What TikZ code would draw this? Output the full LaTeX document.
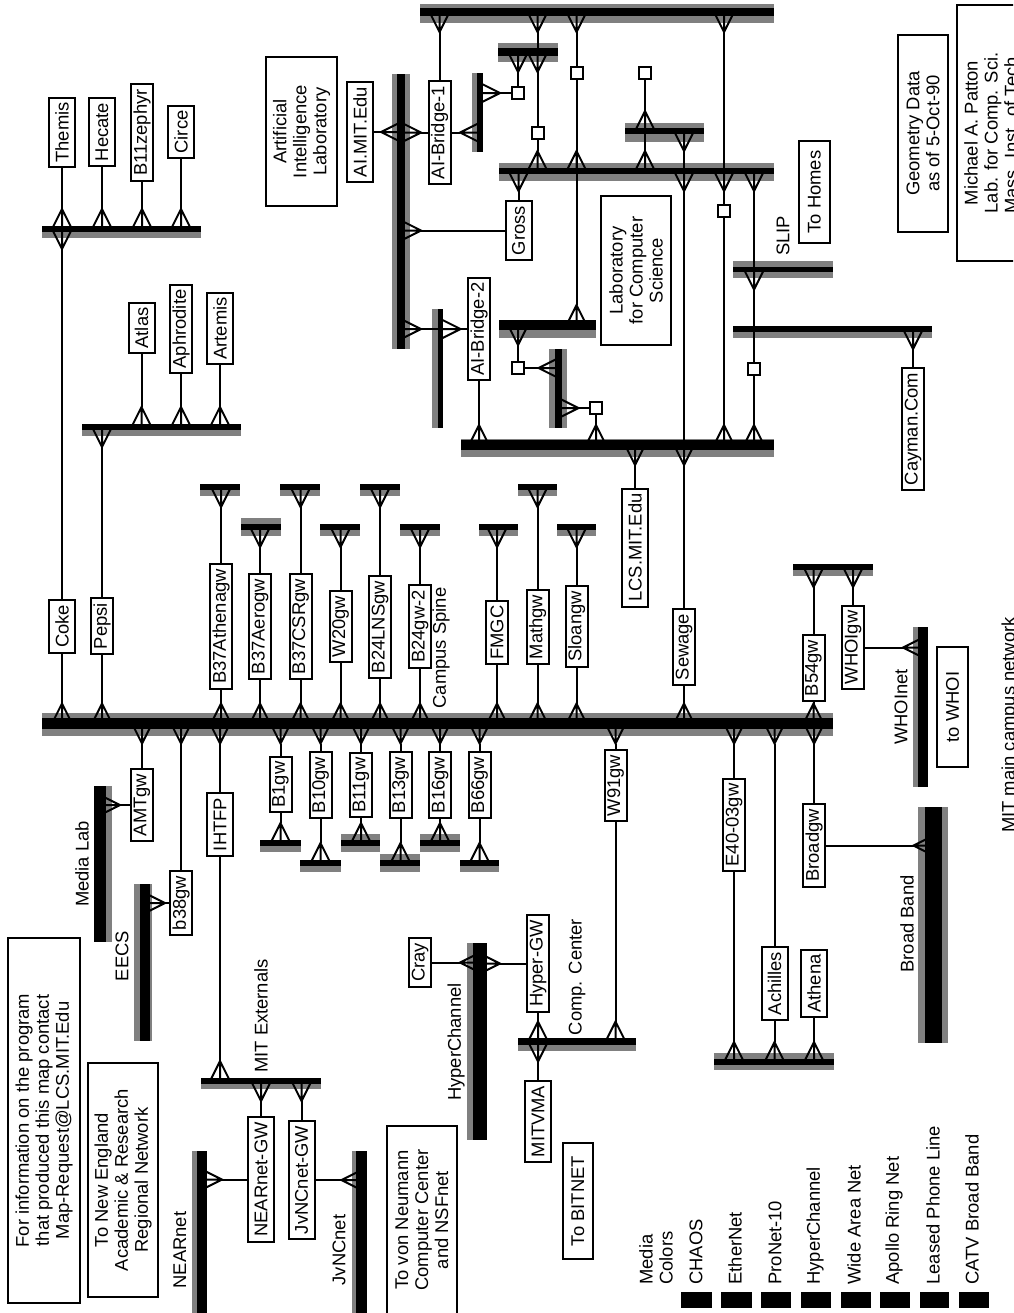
\documentclass[tikz,border=0pt]{standalone}
\usepackage{xcolor}
\usepackage{fontspec}
\setmainfont{Liberation Sans}
\usetikzlibrary{arrows.meta, calc, fit}

\pgfdeclarearrow{
  name=Crow,
  setup code={\pgfarrowssettipend{0pt}\pgfarrowssetlineend{-10pt}\pgfarrowssetvisualbackend{-10pt}\pgfarrowssetbackend{-10pt}},
  drawing code={
    \pgfpathmoveto{\pgfqpoint{0pt}{5pt}}\pgfpathlineto{\pgfqpoint{-10pt}{0pt}}\pgfpathlineto{\pgfqpoint{0pt}{-5pt}}
    \pgfpathmoveto{\pgfqpoint{-10pt}{0pt}}\pgfpathlineto{\pgfqpoint{0pt}{0pt}}
    \pgfusepathqstroke
  }
}
\colorlet{busgray}{black!50}
% name, grey band corners, black core corners
\newcommand{\busbar}[9]{
  \fill[busgray] (#2,#3) rectangle (#4,#5);
  \node[fit={(#6,#7)(#8,#9)}, inner sep=0pt, fill=black] (#1) {};
}

\begin{document}
\begin{tikzpicture}[x=0.5pt, y=-0.5pt, every node/.style={font=\fontsize{9.2pt}{10pt}\selectfont},
    gw/.style={draw, rotate=90, fill=white, line width=1pt, inner xsep=2.4pt, inner ysep=0pt, minimum height=11pt},
    gww/.style={gw, minimum height=13pt},
    infobox/.style={draw, rotate=90, line width=1pt, align=center},
    sq/.style={draw, fill=white, line width=1pt, minimum size=6pt, inner sep=0pt},
    lab/.style={rotate=90, inner sep=0pt},
    link/.style={-Crow, line width=1pt}]
  \useasboundingbox (0,0) rectangle (1013,1313);
  \clip (0,0) rectangle (1013,1313);

  % buses, top half
  \busbar{themisbus}{42}{226}{201}{238}{42}{226}{201}{232}
  \busbar{atlasbus}{82}{424}{241}{436}{82}{424}{241}{430}
  \busbar{athenabus}{200}{484}{240}{496}{200}{484}{240}{490}
  \busbar{aerobus}{241}{518}{281}{536}{241}{524}{281}{530}
  \busbar{csrbus}{280}{484}{320}{496}{280}{484}{320}{490}
  \busbar{wtwentybus}{320}{524}{360}{536}{320}{524}{360}{530}
  \busbar{lnsbus}{360}{484}{400}{496}{360}{484}{400}{490}
  \busbar{bfourbus}{400}{524}{440}{536}{400}{524}{440}{530}
  \busbar{fmgcbus}{479}{524}{518}{536}{479}{524}{518}{530}
  \busbar{mathbus}{518}{484}{557}{496}{518}{484}{557}{490}
  \busbar{sloanbus}{557}{524}{596}{536}{557}{524}{596}{530}
  \busbar{aitop}{420}{4}{774}{23}{420}{8}{774}{16}
  \busbar{upperbus}{499}{163}{774}{181}{499}{168}{774}{174}
  \busbar{smallbus}{498}{43}{558}{62}{498}{48}{558}{56}
  \busbar{midbus}{625}{123}{704}{142}{625}{128}{704}{134}
  \busbar{lowerbus}{499}{320}{596}{338}{499}{320}{596}{330}
  \busbar{lanebus}{461}{439}{774}{457}{461}{440}{774}{450}
  \busbar{slipbus}{733}{261}{833}{278}{733}{267}{833}{272}
  \busbar{caybus}{733}{326}{932}{338}{733}{326}{932}{332}
  \busbar{aibus}{392}{74}{410}{349}{397}{74}{405}{349}
  \busbar{bridgeAbus}{472}{73}{483}{152}{477}{73}{483}{152}
  \busbar{bridgeBbus}{432}{309}{443}{428}{438}{309}{443}{428}
  \busbar{vertbus}{549}{349}{567}{428}{555}{349}{562}{428}

  % buses, spine and below
  \busbar{spine}{42}{713}{833}{736}{42}{718}{833}{729}
  \busbar{medialab}{94}{786}{112}{942}{94}{786}{106}{942}
  \busbar{eecs}{134}{884}{152}{1041}{140}{884}{150}{1041}
  \busbar{bonebus}{260}{840}{301}{852}{260}{840}{301}{846}
  \busbar{btenbus}{300}{860}{341}{872}{300}{860}{341}{866}
  \busbar{belevenbus}{341}{834}{380}{852}{341}{840}{380}{846}
  \busbar{bthirteenbus}{380}{854}{420}{872}{380}{860}{420}{866}
  \busbar{bsixteenbus}{420}{834}{460}{852}{420}{840}{460}{846}
  \busbar{bsixtybus}{460}{860}{499}{872}{460}{860}{499}{866}
  \busbar{extbus}{201}{1078}{321}{1089}{201}{1078}{321}{1084}
  \busbar{nearbus}{192}{1151}{207}{1313}{197}{1151}{207}{1313}
  \busbar{jvncbus}{352}{1151}{367}{1313}{356}{1151}{367}{1313}
  \busbar{hyperbus}{467}{943}{487}{1140}{473}{943}{487}{1140}
  \busbar{compbus}{518}{1038}{636}{1051}{518}{1038}{636}{1045}
  \busbar{athbus}{714}{1053}{834}{1070}{714}{1059}{834}{1065}
  \busbar{broadbus}{918}{807}{948}{1043}{925}{807}{942}{1043}
  \busbar{whoibus}{793}{564}{873}{576}{793}{564}{873}{570}
  \busbar{whoinet}{913}{627}{928}{787}{918}{627}{928}{787}

  % hosts and gateways
  \node[gww] (themis) at (62,132.5) {Themis};
  \node[gww] (hecate) at (102,132) {Hecate};
  \node[gw] (zephyr) at (142,132.5) {B11zephyr};
  \node[gww] (circe) at (181,132) {Circe};
  \node[gww] (atlas) at (141.5,328) {Atlas};
  \node[gw] (aphrodite) at (181,329) {Aphrodite};
  \node[gww] (artemis) at (220,328.5) {Artemis};
  \node[gww] (aimit) at (360,132) {AI.MIT.Edu};
  \node[gw] (bridgeone) at (439.5,132.5) {AI-Bridge-1};
  \node[gw] (bridgetwo) at (479,329) {AI-Bridge-2};
  \node[gww] (gross) at (518.5,230.5) {Gross};
  \node[gw] (cayman) at (913,429) {Cayman.Com};
  \node[gww] (coke) at (62,626.5) {Coke};
  \node[gw] (pepsi) at (102,626) {Pepsi};
  \node[gw] (athenagw) at (221,626.5) {B37Athenagw};
  \node[gw] (aerogw) at (260,626.5) {B37Aerogw};
  \node[gw] (csrgw) at (300.5,626.5) {B37CSRgw};
  \node[gw] (wtwentygw) at (340.5,626.5) {W20gw};
  \node[gw] (lnsgw) at (380,627) {B24LNSgw};
  \node[gw] (bfourgw) at (420,626.5) {B24gw-2};
  \node[gw] (fmgc) at (497,632.5) {FMGC};
  \node[gw] (mathgw) at (537.5,627) {Mathgw};
  \node[gw] (sloangw) at (576.5,626.5) {Sloangw};
  \node[gww] (lcsmit) at (635,547.5) {LCS.MIT.Edu};
  \node[gw] (sewage) at (684,647) {Sewage};
  \node[gw] (bfiftygw) at (813.5,668) {B54gw};
  \node[gw] (whoigw) at (853,647.5) {WHOIgw};
  \node[gw] (amtgw) at (142,805) {AMTgw};
  \node[gw] (bthirtygw) at (181,903) {b38gw};
  \node[gww] (ihtfp) at (220,824.5) {IHTFP};
  \node[gw] (bonegw) at (280.5,784.5) {B1gw};
  \node[gw] (btengw) at (320.5,785) {B10gw};
  \node[gw] (belevengw) at (361,785) {B11gw};
  \node[gw] (bthirteengw) at (400.5,785) {B13gw};
  \node[gw] (bsixteengw) at (440,785) {B16gw};
  \node[gw] (bsixtygw) at (479.5,785) {B66gw};
  \node[gw] (wninetygw) at (615.5,785.5) {W91gw};
  \node[gw] (eforty) at (734,825) {E40-03gw};
  \node[gw] (broadgw) at (814,845.5) {Broadgw};
  \node[gww] (neargw) at (261,1179.5) {NEARnet-GW};
  \node[gww] (jvncgw) at (301.5,1180) {JvNCnet-GW};
  \node[gw] (cray) at (420,962.5) {Cray};
  \node[gw] (hypergw) at (538,963.5) {Hyper-GW};
  \node[gww] (mitvma) at (538,1121.5) {MITVMA};
  \node[gww] (achilles) at (774.5,983.5) {Achilles};
  \node[gww] (athena) at (814,983.5) {Athena};
  \node[sq] (sqa) at (518,93) {};
  \node[sq] (sqb) at (537.5,133) {};
  \node[sq] (sqc) at (576.5,73) {};
  \node[sq] (sqd) at (645,73) {};
  \node[sq] (sqe) at (724,211) {};
  \node[sq] (sqf) at (518,368) {};
  \node[sq] (sqg) at (596,408) {};
  \node[sq] (sqh) at (754,369) {};

  % text boxes
  \node[infobox, minimum width=74.5pt, minimum height=35.5pt] (ailab) at (301.5,131.5) {Artificial\\Intelligence\\Laboratory};
  \node[infobox, minimum width=74.5pt, minimum height=35pt] (lcslab) at (636,270.5) {Laboratory\\for Computer\\Science};
  \node[infobox, minimum width=51pt, minimum height=15.5pt] (homes) at (814.5,192) {To Homes};
  \node[infobox, minimum width=98.5pt, minimum height=25pt] (geometry) at (923,133.5) {Geometry Data\\as of 5-Oct-90};
  \node[infobox, minimum width=128pt, minimum height=34pt] (patton) at (991,133) {Michael A. Patton\\Lab. for Comp. Sci.\\Mass. Inst. of Tech.};
  \node[infobox, minimum width=182.5pt, minimum height=36pt] (mapinfo) at (44,1120.5) {For information on the program\\that produced this map contact\\Map-Request@LCS.MIT.Edu};
  \node[infobox, minimum width=117pt, minimum height=35pt] (nearinfo) at (123,1180) {To New England\\Academic \& Research\\Regional Network};
  \node[infobox, minimum width=94pt, minimum height=35pt] (vninfo) at (422,1220) {To von Neumann\\Computer Center\\and NSFnet};
  \node[infobox, minimum width=58pt, minimum height=15pt] (bitnet) at (578,1201) {To BITNET};
  \node[infobox, minimum width=60pt, minimum height=15.5pt] (towhoi) at (952.5,707) {to WHOI};

  % labels
  \node[lab] (slipl) at (783,236) {SLIP};
  \node[lab] (spinel) at (441,648) {Campus Spine};
  \node[lab] (medial) at (82,864) {Media Lab};
  \node[lab] (eecsl) at (122,956) {EECS};
  \node[lab] (extl) at (261,1016) {MIT Externals};
  \node[lab] (nearl) at (180,1250) {NEARnet};
  \node[lab] (jvncl) at (339,1250) {JvNCnet};
  \node[lab] (hyperl) at (456,1042) {HyperChannel};
  \node[lab] (compl) at (577,977) {Comp. Center};
  \node[lab] (broadl) at (907,924) {Broad Band};
  \node[lab] (whoil) at (901,707) {WHOInet};
  \node[lab] (mainl) at (1010,725) {MIT main campus network};

  % legend
  \node[lab, anchor=west, align=left] (mediacolors) at (656,1285) {Media\\Colors};
  \node[lab, anchor=west] (chaos) at (696,1285) {CHAOS};
  \node[lab, anchor=west] (ether) at (735,1285) {EtherNet};
  \node[lab, anchor=west] (pronet) at (775,1285) {ProNet-10};
  \node[lab, anchor=west] (hyperc) at (815,1285) {HyperChannel};
  \node[lab, anchor=west] (widearea) at (854,1285) {Wide Area Net};
  \node[lab, anchor=west] (apollo) at (894,1285) {Apollo Ring Net};
  \node[lab, anchor=west] (leased) at (933,1285) {Leased Phone Line};
  \node[lab, anchor=west] (catv) at (972,1285) {CATV Broad Band};
  \fill (681,1292) rectangle (712,1308);
  \fill (721,1292) rectangle (752,1308);
  \fill (761,1292) rectangle (791,1308);
  \fill (801,1292) rectangle (831,1308);
  \fill (841,1292) rectangle (871,1308);
  \fill (880,1292) rectangle (910,1308);
  \fill (920,1292) rectangle (949,1308);
  \fill (959,1292) rectangle (989,1308);

  % connectors, top left
  \draw[link] (themis) -- (themis |- themisbus);
  \draw[link] (hecate) -- (hecate |- themisbus);
  \draw[link] (zephyr) -- (zephyr |- themisbus);
  \draw[link] (circe) -- (circe |- themisbus);
  \draw[link] (coke) -- (coke |- themisbus);
  \draw[link] (coke) -- (coke |- spine);
  \draw[link] (atlas) -- (atlas |- atlasbus);
  \draw[link] (aphrodite) -- (aphrodite |- atlasbus);
  \draw[link] (artemis) -- (artemis |- atlasbus);
  \draw[link] (pepsi) -- (pepsi |- atlasbus);
  \draw[link] (pepsi) -- (pepsi |- spine);

  % connectors, spine upward
  \draw[link] (athenagw) -- (athenagw |- athenabus);
  \draw[link] (athenagw) -- (athenagw |- spine);
  \draw[link] (aerogw) -- (aerogw |- aerobus);
  \draw[link] (aerogw) -- (aerogw |- spine);
  \draw[link] (csrgw) -- (csrgw |- csrbus);
  \draw[link] (csrgw) -- (csrgw |- spine);
  \draw[link] (wtwentygw) -- (wtwentygw |- wtwentybus);
  \draw[link] (wtwentygw) -- (wtwentygw |- spine);
  \draw[link] (lnsgw) -- (lnsgw |- lnsbus);
  \draw[link] (lnsgw) -- (lnsgw |- spine);
  \draw[link] (bfourgw) -- (bfourgw |- bfourbus);
  \draw[link] (bfourgw) -- (bfourgw |- spine);
  \draw[link] (fmgc) -- (fmgc |- fmgcbus);
  \draw[link] (fmgc) -- (fmgc |- spine);
  \draw[link] (mathgw) -- (mathgw |- mathbus);
  \draw[link] (mathgw) -- (mathgw |- spine);
  \draw[link] (sloangw) -- (sloangw |- sloanbus);
  \draw[link] (sloangw) -- (sloangw |- spine);
  \draw[link] (bfiftygw) -- (bfiftygw |- whoibus);
  \draw[link] (bfiftygw) -- (bfiftygw |- spine);
  \draw[link] (whoigw) -- (whoigw |- whoibus);
  \draw[link] (whoigw) -- (whoigw -| whoinet);

  % connectors, AI and LCS
  \draw[link] (aimit) -- (aimit -| aibus);
  \draw[link] (bridgeone) -- (bridgeone -| aibus);
  \draw[link] (bridgeone) -- (bridgeone -| bridgeAbus);
  \draw[link] (bridgeone) -- (bridgeone |- aitop);
  \draw[link] (gross) -- (gross -| aibus);
  \draw[link] (gross) -- (gross |- upperbus);
  \draw[link] (bridgetwo) -- (bridgetwo -| bridgeBbus);
  \draw[link] (bridgetwo -| bridgeBbus) -- (bridgetwo -| aibus);
  \draw[link] (bridgetwo) -- (bridgetwo |- lanebus);
  \draw[link] (lcsmit) -- (lcsmit |- lanebus);
  \draw[link] (sqa) -- (sqa -| bridgeAbus);
  \draw[link] (sqa) -- (sqa |- smallbus);
  \draw[link] (sqb) -- (sqb |- smallbus);
  \draw[link] (sqb |- smallbus) -- (sqb |- aitop);
  \draw[link] (sqb) -- (sqb |- upperbus);
  \draw[link] (sqc) -- (sqc |- aitop);
  \draw[link] (sqc) -- (sqc |- upperbus);
  \draw[link] (sqc) -- (sqc |- lowerbus);
  \draw[link] (sqd) -- (sqd |- midbus);
  \draw[link] (sqd |- midbus) -- (sqd |- upperbus);
  \draw[link] (sewage) -- (sewage |- spine);
  \draw[link] (sewage) -- (sewage |- lanebus);
  \draw[link] (sewage |- lanebus) -- (sewage |- upperbus);
  \draw[link] (sewage |- upperbus) -- (sewage |- midbus);
  \draw[link] (sqe) -- (sqe |- upperbus);
  \draw[link] (sqe |- upperbus) -- (sqe |- aitop);
  \draw[link] (sqe) -- (sqe |- lanebus);
  \draw[link] (sqh) -- (sqh |- slipbus);
  \draw[link] (sqh |- slipbus) -- (sqh |- upperbus);
  \draw[link] (sqh) -- (sqh |- lanebus);
  \draw[link] (sqf) -- (sqf |- lowerbus);
  \draw[link] (sqf) -- (sqf -| vertbus);
  \draw[link] (sqg) -- (sqg -| vertbus);
  \draw[link] (sqg) -- (sqg |- lanebus);
  \draw[link] (cayman) -- (cayman |- caybus);

  % connectors, spine downward
  \draw[link] (amtgw) -- (amtgw |- spine);
  \draw[link] (amtgw) -- (amtgw -| medialab);
  \draw[link] (bthirtygw) -- (bthirtygw |- spine);
  \draw[link] (bthirtygw) -- (bthirtygw -| eecs);
  \draw[link] (ihtfp) -- (ihtfp |- spine);
  \draw[link] (ihtfp) -- (ihtfp |- extbus);
  \draw[link] (bonegw) -- (bonegw |- spine);
  \draw[link] (bonegw) -- (bonegw |- bonebus);
  \draw[link] (btengw) -- (btengw |- spine);
  \draw[link] (btengw) -- (btengw |- btenbus);
  \draw[link] (belevengw) -- (belevengw |- spine);
  \draw[link] (belevengw) -- (belevengw |- belevenbus);
  \draw[link] (bthirteengw) -- (bthirteengw |- spine);
  \draw[link] (bthirteengw) -- (bthirteengw |- bthirteenbus);
  \draw[link] (bsixteengw) -- (bsixteengw |- spine);
  \draw[link] (bsixteengw) -- (bsixteengw |- bsixteenbus);
  \draw[link] (bsixtygw) -- (bsixtygw |- spine);
  \draw[link] (bsixtygw) -- (bsixtygw |- bsixtybus);
  \draw[link] (neargw) -- (neargw |- extbus);
  \draw[link] (neargw) -- (neargw -| nearbus);
  \draw[link] (jvncgw) -- (jvncgw |- extbus);
  \draw[link] (jvncgw) -- (jvncgw -| jvncbus);
  \draw[link] (cray) -- (cray -| hyperbus);
  \draw[link] (hypergw) -- (hypergw -| hyperbus);
  \draw[link] (hypergw) -- (hypergw |- compbus);
  \draw[link] (mitvma) -- (mitvma |- compbus);
  \draw[link] (wninetygw) -- (wninetygw |- spine);
  \draw[link] (wninetygw) -- (wninetygw |- compbus);
  \draw[link] (eforty) -- (eforty |- spine);
  \draw[link] (eforty) -- (eforty |- athbus);
  \draw[link] (achilles) -- (achilles |- spine);
  \draw[link] (achilles) -- (achilles |- athbus);
  \draw[link] (athena) -- (athena |- athbus);
  \draw[link] (broadgw) -- (broadgw |- spine);
  \draw[link] (broadgw) -- (broadgw -| broadbus);
\end{tikzpicture}
\end{document}
